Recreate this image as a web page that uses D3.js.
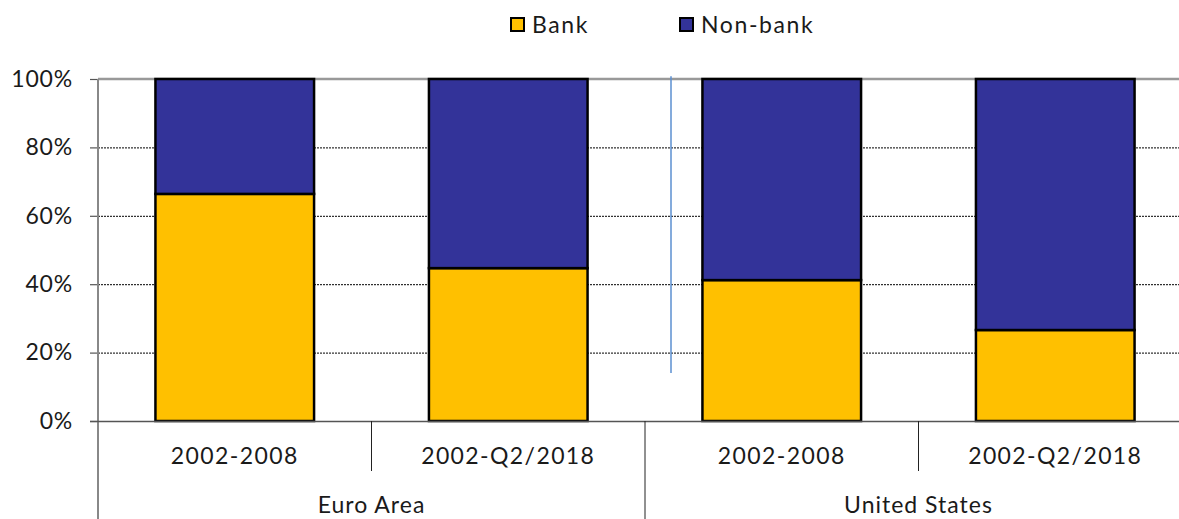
<!DOCTYPE html>
<html><head><meta charset="utf-8">
<script src="https://cdn.jsdelivr.net/npm/d3@7"></script>
<style>body{margin:0;background:#fff}svg{display:block}text{font-family:Lato,"DejaVu Sans",sans-serif;font-weight:400;fill:#1a1a1a}</style>
</head><body><svg id="c" width="1179" height="519"></svg>
<script>
const categories = ["2002-2008","2002-Q2/2018","2002-2008","2002-Q2/2018"];
const groupNames = ["Euro Area","United States"];
const bank = [66.4, 44.7, 41.2, 26.6];
const nonBank = bank.map(v => 100 - v);
const seriesNames = ["Bank","Non-bank"];
const colors = ["#FFC000","#333399"];
const yTicks = [0,20,40,60,80,100];

const svg = d3.select("#c");
const L = 98, R = 1192, T = 79, B = 421;
const keys = categories.map((c,i)=>i);
const x = d3.scaleBand().domain(keys).range([L,R]).paddingInner(0.42).paddingOuter(0.21);
const y = d3.scaleLinear().domain([0,100]).range([B,T]);

// gridlines
svg.append("g").selectAll("line").data(yTicks.filter(t=>t>0 && t<100)).join("line")
  .attr("x1",L).attr("x2",R).attr("y1",d=>y(d)+0.5).attr("y2",d=>y(d)+0.5)
  .attr("stroke","#000").attr("stroke-width",1).attr("stroke-dasharray","2,1");
svg.append("line").attr("x1",L).attr("x2",R).attr("y1",y(100)).attr("y2",y(100))
  .attr("stroke","#999").attr("stroke-width",2.5);

// blue divider
svg.append("line").attr("x1",671).attr("x2",671).attr("y1",y(100.8)).attr("y2",y(14))
  .attr("stroke","#5B8FD0").attr("stroke-width",1.5);

// y axis
const yAxis = d3.axisLeft(y).tickValues(yTicks).tickFormat(d=>d+"%").tickSize(8).tickPadding(17);
const ga = svg.append("g").attr("transform",`translate(${L},0)`).call(yAxis);
ga.select(".domain").remove();
ga.selectAll(".tick line").attr("stroke","#555").attr("stroke-width",1.2);
ga.selectAll(".tick text").attr("font-size",23).attr("letter-spacing",0.8).attr("font-family",null).style("fill","#1a1a1a");
svg.append("line").attr("x1",L).attr("x2",L).attr("y1",T).attr("y2",519).attr("stroke","#888").attr("stroke-width",2);

// bars
const stack = d3.stack().keys([0,1]).value((d,k)=> k===0 ? bank[d] : nonBank[d]);
const layers = stack(keys);
svg.append("g").selectAll("g").data(layers).join("g").attr("fill",(d,i)=>colors[i])
  .selectAll("rect").data(d=>d).join("rect")
  .attr("x",(d,i)=>x(keys[i])).attr("width",x.bandwidth())
  .attr("y",d=>y(d[1])).attr("height",d=>y(d[0])-y(d[1]))
  .attr("stroke","#000").attr("stroke-width",2.5);

// x axis baseline
svg.append("line").attr("x1",L-8).attr("x2",R).attr("y1",B+0.5).attr("y2",B+0.5).attr("stroke","#555").attr("stroke-width",1.5);

// category labels & separators
svg.append("g").selectAll("text").data(keys).join("text")
  .attr("x",d=>x(d)+x.bandwidth()/2).attr("y",464).attr("text-anchor","middle").attr("font-size",23).attr("letter-spacing",1.4)
  .text(d=>categories[d]);
[1,3].forEach(i=>{
  const xs = L + (R-L)/4*i;
  svg.append("line").attr("x1",xs).attr("x2",xs).attr("y1",B).attr("y2",471).attr("stroke","#222").attr("stroke-width",1);
});
const xg = L + (R-L)/2;
svg.append("line").attr("x1",xg).attr("x2",xg).attr("y1",B).attr("y2",519).attr("stroke","#222").attr("stroke-width",1);
svg.append("g").selectAll("text").data(groupNames).join("text")
  .attr("x",(d,i)=> L + (R-L)/4*(2*i+1)).attr("y",513).attr("text-anchor","middle").attr("font-size",23).attr("letter-spacing",1.0)
  .text(d=>d);

// legend
const leg = svg.append("g");
const lx = [511, 680];
seriesNames.forEach((s,i)=>{
  leg.append("rect").attr("x",lx[i]).attr("y",18).attr("width",13).attr("height",13)
    .attr("fill",colors[i]).attr("stroke","#000").attr("stroke-width",2);
  leg.append("text").attr("x",lx[i]+21).attr("y",33).attr("font-size",23).attr("letter-spacing",1.6).text(s);
});
</script></body></html>
